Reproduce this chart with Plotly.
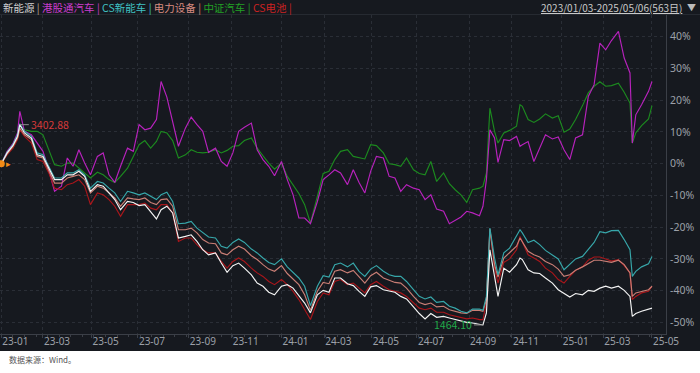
import plotly.graph_objects as go
import pandas as pd

# ---------------- data ----------------
# Chinese A-share market holidays (weekdays closed) inside the window
holidays = [
    "2023-01-23", "2023-01-24", "2023-01-25", "2023-01-26", "2023-01-27",
    "2023-04-05", "2023-05-01", "2023-05-02", "2023-05-03", "2023-06-22",
    "2023-06-23", "2023-09-29", "2023-10-02", "2023-10-03", "2023-10-04",
    "2023-10-05", "2023-10-06",
    "2024-01-01", "2024-02-09", "2024-02-12", "2024-02-13", "2024-02-14",
    "2024-02-15", "2024-02-16", "2024-04-04", "2024-04-05", "2024-05-01",
    "2024-05-02", "2024-05-03", "2024-06-10", "2024-09-16", "2024-09-17",
    "2024-10-01", "2024-10-02", "2024-10-03", "2024-10-04", "2024-10-07",
    "2025-01-01", "2025-01-28", "2025-01-29", "2025-01-30", "2025-01-31",
    "2025-02-03", "2025-02-04", "2025-04-04", "2025-05-01", "2025-05-02",
    "2025-05-05",
]
start_date, end_date = "2023-01-03", "2025-05-06"

# sampled trading-day positions (0 = 2023-01-03, 562 = 2025-05-06)
day = [0, 5, 10, 14, 16, 20, 26, 31, 36, 41, 46, 52, 57, 62, 67, 72, 77, 83, 88, 93,
       98, 103, 109, 114, 119, 124, 129, 134, 138, 143, 148, 153, 159, 164, 169, 174, 179, 185, 190, 195,
       200, 205, 210, 216, 221, 226, 231, 236, 242, 247, 252, 257, 262, 267, 273, 278, 283, 288, 293, 299,
       304, 309, 314, 319, 324, 330, 335, 340, 345, 350, 356, 361, 366, 371, 376, 382, 387, 392, 397, 402,
       407, 413, 416, 419, 422, 426, 429, 434, 439, 445, 448, 450, 455, 460, 465, 470, 476, 481, 486, 491,
       496, 502, 507, 512, 517, 522, 527, 533, 538, 543, 545, 548, 553, 559, 562]

# cumulative change, %
xinnengyuan = [0, 3.4, 5.7, 8.6, 12.3, 9.7, 8.1, 2.8, 2.3, -1.4, -5.0, -5.0, -3.5, -3.5, -2.4, -4.0, -8.7, -6.6, -7.1, -9.2,
               -11.3, -14.5, -11.9, -12.2, -13.2, -12.9, -15.3, -17.4, -14.5, -13.4, -15.5, -23.4, -22.9, -22.4, -24.5, -27.1, -28.7, -28.1, -31.3, -34.2,
               -32.1, -31.3, -32.9, -35.0, -37.6, -38.6, -40.5, -41.3, -38.6, -38.1, -39.2, -41.6, -43.9, -47.0, -41.3, -39.9, -40.5, -36.0, -36.0, -37.8,
               -38.4, -40.2, -41.8, -38.8, -38.4, -39.7, -40.2, -40.5, -41.8, -42.6, -45.1, -47.2, -48.9, -47.2, -48.4, -48.1, -48.6, -49.1, -49.7, -50.0,
               -50.2, -50.5, -50.8, -47.0, -27.1, -35.5, -41.8, -32.9, -34.2, -31.8, -29.7, -30.2, -33.4, -34.4, -34.6, -36.0, -37.6, -39.7, -40.9, -42.0,
               -40.9, -41.3, -39.9, -40.2, -39.2, -38.6, -39.2, -38.6, -39.9, -41.8, -48.1, -47.2, -46.5, -45.8, -45.5]
ggt_auto = [0, 3.9, 6.3, 9.7, 16.5, 10.2, 9.1, 6.5, 3.9, -1.9, -8.7, -7.1, 1.8, -0.8, 4.4, 0.2, -3.5, 2.3, 3.4, -3.5,
            -5.9, -0.8, 4.9, 3.9, 12.3, 10.7, 11.2, 13.9, 25.9, 21.0, 12.8, 5.5, 11.2, 14.7, 12.3, 10.2, 3.6, 4.9, 0.7, -0.8,
            3.4, 10.2, 11.5, 12.8, 4.4, 1.3, -0.8, -3.8, 0.7, -5.0, -9.8, -17.1, -17.1, -18.9, -11.9, -5.0, -3.5, -1.9, -2.9, -6.6,
            -1.9, -5.9, -9.2, -2.4, 2.3, 1.8, -4.0, -4.5, -8.7, -6.6, -7.7, -8.2, -11.3, -9.8, -14.3, -15.0, -18.9, -17.8, -16.8, -15.0,
            -15.5, -16.4, -13.4, -5.0, 10.7, 8.1, 0.4, 7.6, 7.3, 8.6, 5.5, 6.0, 7.0, 0.7, 4.9, 9.1, 7.8, 8.4, 4.4, 1.3,
            8.1, 9.1, 21.2, 24.9, 38.0, 35.9, 38.8, 41.7, 33.3, 28.6, 6.5, 15.4, 18.6, 22.8, 25.9]
cs_nev = [0, 3.6, 6.0, 9.1, 12.6, 10.2, 8.6, 3.4, 2.8, -0.8, -4.5, -4.5, -2.9, -2.9, -1.9, -3.5, -7.7, -5.6, -6.1, -7.7,
          -9.2, -11.9, -8.7, -9.2, -9.8, -9.2, -10.3, -11.3, -9.8, -9.0, -11.9, -18.9, -18.7, -18.2, -20.3, -21.8, -23.1, -23.4, -26.0, -26.6,
          -24.8, -23.7, -24.8, -26.9, -28.1, -29.7, -31.1, -31.8, -30.0, -32.5, -34.4, -36.0, -38.6, -44.7, -38.6, -35.3, -35.7, -31.8, -31.3, -32.5,
          -31.3, -33.9, -35.5, -33.2, -32.1, -33.9, -35.0, -35.5, -35.5, -37.1, -39.7, -41.8, -42.6, -42.0, -43.7, -43.4, -44.9, -45.5, -46.5, -47.0,
          -45.8, -45.8, -46.2, -41.8, -20.3, -29.7, -35.0, -28.1, -26.6, -22.9, -20.8, -21.8, -24.8, -24.1, -25.5, -27.3, -28.7, -30.0, -33.4, -31.8,
          -30.0, -29.2, -27.1, -24.8, -21.4, -21.8, -21.1, -21.0, -23.9, -27.1, -35.5, -33.9, -32.5, -31.5, -29.2]
power_equip = [0, 3.1, 5.5, 8.1, 11.2, 9.1, 7.6, 2.3, 1.8, -1.9, -6.1, -6.1, -4.5, -4.0, -3.5, -5.0, -9.2, -7.1, -7.7, -9.2,
               -10.8, -13.4, -10.8, -11.1, -11.3, -10.8, -12.2, -12.9, -11.3, -11.1, -13.4, -20.8, -20.8, -20.3, -21.8, -23.9, -25.0, -25.2, -28.1, -28.7,
               -27.1, -26.0, -26.9, -29.0, -30.2, -31.8, -33.2, -33.9, -32.1, -34.6, -36.5, -38.1, -41.3, -46.2, -40.2, -37.4, -37.8, -33.9, -33.4, -34.4,
               -33.6, -35.7, -37.6, -35.3, -34.2, -36.0, -36.7, -37.4, -37.6, -39.2, -41.8, -43.7, -44.4, -43.9, -45.1, -44.9, -46.0, -46.5, -47.0, -47.2,
               -46.2, -46.2, -46.5, -42.8, -20.6, -31.8, -35.7, -29.7, -28.1, -26.0, -23.4, -24.5, -27.6, -28.7, -29.4, -30.8, -31.8, -33.2, -35.5, -35.0,
               -33.6, -32.5, -31.5, -30.4, -30.4, -30.8, -31.1, -30.4, -31.8, -34.4, -41.8, -40.7, -40.2, -39.7, -38.6]
csi_auto = [0, 3.6, 4.9, 8.1, 12.0, 10.7, 10.2, 10.2, 9.1, 4.4, -0.3, -0.8, 0.2, 0.2, -1.4, -2.9, -4.5, -2.7, -3.5, -5.0,
            -5.9, -4.0, -1.4, 2.3, 6.0, 7.3, 4.9, 7.0, 10.2, 9.7, 7.3, 1.8, 2.8, 4.4, 3.6, 3.4, 3.6, 4.4, 3.4, 4.2,
            5.5, 5.7, 7.3, 8.1, 4.9, 2.5, 0.2, -1.7, 0.2, -4.0, -6.6, -9.4, -12.9, -18.7, -10.3, -3.1, -2.4, 1.3, 3.9, 4.4,
            2.3, 1.8, 1.5, 6.0, 5.7, 3.4, 0.0, -0.3, -0.8, 1.8, -1.9, -3.1, -3.5, 0.7, -5.6, -2.9, -6.3, -8.2, -9.8, -12.2,
            -8.2, -7.7, -7.1, -2.9, 17.5, 10.2, 6.5, 9.7, 10.5, 11.8, 18.6, 18.1, 13.9, 13.0, 14.1, 15.7, 14.4, 15.1, 9.9, 10.9,
            13.9, 18.3, 22.3, 24.4, 25.8, 24.4, 24.6, 25.4, 22.5, 19.1, 6.5, 9.7, 12.0, 14.1, 18.3]
cs_battery = [0, 2.8, 4.9, 7.6, 10.7, 8.6, 6.5, 1.3, 0.7, -2.9, -7.7, -8.2, -6.6, -6.1, -5.0, -7.1, -12.9, -9.2, -9.8, -11.3,
              -13.4, -16.6, -12.9, -12.9, -12.9, -12.4, -14.0, -14.5, -12.9, -12.9, -15.5, -24.5, -23.4, -23.4, -25.5, -27.1, -28.1, -28.1, -30.8, -32.9,
              -30.8, -29.7, -30.8, -32.9, -34.4, -35.5, -37.1, -38.1, -36.5, -38.1, -40.2, -42.8, -46.0, -49.1, -43.4, -40.7, -41.3, -37.1, -36.5, -38.1,
              -37.6, -39.2, -40.7, -38.1, -37.1, -38.6, -39.7, -40.2, -40.7, -41.8, -43.9, -45.5, -46.0, -45.5, -46.8, -46.8, -47.6, -48.1, -48.6, -48.9,
              -48.6, -49.1, -49.1, -43.9, -20.8, -32.9, -37.6, -31.1, -30.0, -27.1, -22.9, -24.5, -28.7, -29.7, -30.8, -32.9, -34.4, -36.5, -37.6, -35.5,
              -33.6, -32.5, -30.4, -29.4, -29.4, -30.0, -30.7, -30.2, -32.1, -34.4, -42.8, -41.8, -40.7, -40.2, -38.6]

series_names = ["新能源", "港股通汽车", "CS新能车", "电力设备", "中证汽车", "CS电池"]
peak_label, trough_label = "3402.88", "1464.10"
y_ticks = [40, 30, 20, 10, 0, -10, -20, -30, -40, -50]
y_tick_text = [f"{v}%" for v in y_ticks]

# ---------------- calendar & ticks ----------------
cal = pd.bdate_range(start_date, end_date)
cal = cal[~cal.isin(pd.to_datetime(holidays))]
tick_pos, tick_txt = [], []
for yr in (2023, 2024, 2025):
    for mo in (1, 3, 5, 7, 9, 11):
        ms = pd.Timestamp(yr, mo, 1)
        if ms > cal[-1]:
            continue
        tick_pos.append(int(cal.searchsorted(ms)))
        tick_txt.append(f"{yr % 100:02d}-{mo:02d}")
dates = [cal[min(d, len(cal) - 1)].strftime("%Y-%m-%d") for d in day]

# ---------------- style ----------------
BG = "#16191f"
GRID = "#2a2e36"
AX = "#3b3f47"
FONT = "Noto Sans CJK SC, Noto Sans, sans-serif"
colors = {
    "新能源": "#f4f4f4",
    "港股通汽车": "#b822bd",
    "CS新能车": "#37a7aa",
    "电力设备": "#c97e75",
    "中证汽车": "#1c8a1f",
    "CS电池": "#a9161b",
}
header_colors = {
    "新能源": "#cfcfcf",
    "港股通汽车": "#c93ccb",
    "CS新能车": "#40c2c4",
    "电力设备": "#d68b80",
    "中证汽车": "#23a025",
    "CS电池": "#cc2222",
}
values = {
    "新能源": xinnengyuan,
    "港股通汽车": ggt_auto,
    "CS新能车": cs_nev,
    "电力设备": power_equip,
    "中证汽车": csi_auto,
    "CS电池": cs_battery,
}

W, H = 700, 373
ML, MR, MT, MB = 0, 34, 15, 39
PW, PH = W - ML - MR, H - MT - MB


def fx(px):  # pixel -> paper x (layout placement only)
    return (px - ML) / PW


def fy(py):  # pixel -> paper y (layout placement only)
    return (H - MB - py) / PH


fig = go.Figure()
for name in ["中证汽车", "港股通汽车", "CS电池", "电力设备", "CS新能车", "新能源"]:
    fig.add_trace(go.Scatter(
        x=day, y=values[name], mode="lines", name=name,
        line=dict(color=colors[name], width=1.15),
        customdata=dates, hovertemplate="%{customdata}<br>%{y:.1f}%<extra>" + name + "</extra>",
    ))

# start marker
fig.add_trace(go.Scatter(x=[day[0]], y=[xinnengyuan[0]], mode="markers",
                         marker=dict(color="#f28a16", size=7), hoverinfo="skip", showlegend=False))
fig.add_annotation(x=day[0], y=xinnengyuan[0], text="▸", showarrow=False, xshift=7,
                   font=dict(color="#f28a16", size=9, family=FONT))

# peak / trough labels on the main series
i_max = max(range(len(xinnengyuan)), key=lambda i: xinnengyuan[i])
i_min = min(range(len(xinnengyuan)), key=lambda i: xinnengyuan[i])
fig.add_annotation(x=day[i_max], y=xinnengyuan[i_max], text=peak_label, showarrow=True,
                   arrowhead=0, arrowwidth=1, arrowcolor="#8c8c8c", ax=9, ay=0,
                   xanchor="left", font=dict(color="#d63a3a", size=10.5, family=FONT))
fig.add_annotation(x=day[i_min], y=xinnengyuan[i_min], text=trough_label, showarrow=True,
                   arrowhead=0, arrowwidth=1, arrowcolor="#8c8c8c", ax=-9, ay=0,
                   xanchor="right", font=dict(color="#22a94a", size=10.5, family=FONT))

# header legend
parts = []
for i, name in enumerate(series_names):
    c = header_colors[name]
    sep_c = "#b9a98f" if i == 0 else c
    parts.append(f'<span style="color:{c}">{name}</span><span style="color:{sep_c}"> | </span>')
fig.add_annotation(xref="paper", yref="paper", x=fx(1), y=fy(7.5), xanchor="left", yanchor="middle",
                   text="".join(parts), showarrow=False, font=dict(size=10.5, family=FONT))
fig.add_annotation(xref="paper", yref="paper", x=fx(684), y=fy(7.5), xanchor="right", yanchor="middle",
                   text=f"<u>{start_date.replace('-', '/')}-{end_date.replace('-', '/')}({len(cal)}日)</u>",
                   showarrow=False, font=dict(size=10, color="#c9c9c9", family=FONT))
fig.add_annotation(xref="paper", yref="paper", x=fx(691), y=fy(7.5), xanchor="center", yanchor="middle",
                   text="▼", showarrow=False, font=dict(size=9, color="#bcbcbc", family=FONT))

# footer
fig.add_shape(type="rect", xref="paper", yref="paper", x0=fx(-5), x1=fx(W + 5), y0=fy(351), y1=fy(H + 5),
              fillcolor="#ffffff", line=dict(width=0), layer="above")
fig.add_annotation(xref="paper", yref="paper", x=fx(7), y=fy(359), xanchor="left", yanchor="middle",
                   text="数据来源：Wind。", showarrow=False, font=dict(size=8, color="#555555", family=FONT))
fig.add_shape(type="line", xref="paper", yref="paper", x0=fx(0), x1=fx(W), y0=fy(14.5), y1=fy(14.5),
              line=dict(color="#262a31", width=1))

fig.update_layout(
    width=W, height=H,
    margin=dict(l=ML, r=MR, t=MT, b=MB, pad=0),
    paper_bgcolor=BG, plot_bgcolor=BG,
    showlegend=False,
    font=dict(family=FONT, color="#9ca0a8"),
    xaxis=dict(
        range=[-1.12, 574.1], tickmode="array", tickvals=tick_pos, ticktext=tick_txt,
        ticklabelposition="outside right", showgrid=True, gridcolor=GRID, griddash="dot", gridwidth=1,
        zeroline=False, showline=True, linecolor=AX, linewidth=1,
        ticks="outside", ticklen=3, tickcolor=AX, ticklabelstandoff=-2,
        minor=dict(ticks="outside", ticklen=2, tickcolor=AX, tickmode="linear", tick0=0, dtick=10, showgrid=False),
        tickfont=dict(size=10, color="#9ca0a8", family="Noto Sans, sans-serif"),
        fixedrange=True,
    ),
    yaxis=dict(
        side="right", range=[-53.65, 46.85], tickmode="array", tickvals=y_ticks, ticktext=y_tick_text,
        showgrid=True, gridcolor=GRID, griddash="dot", gridwidth=1, zeroline=False,
        showline=True, linecolor=AX, linewidth=1, ticks="", ticklabelstandoff=1,
        ticklabeloverflow="allow",
        tickfont=dict(size=10.5, color="#9ca0a8", family="Noto Sans, sans-serif"),
        fixedrange=True,
    ),
)

fig.write_html("out.html", config={"displayModeBar": False},
               post_script="document.body.style.margin='0px';document.body.style.overflow='hidden';")
